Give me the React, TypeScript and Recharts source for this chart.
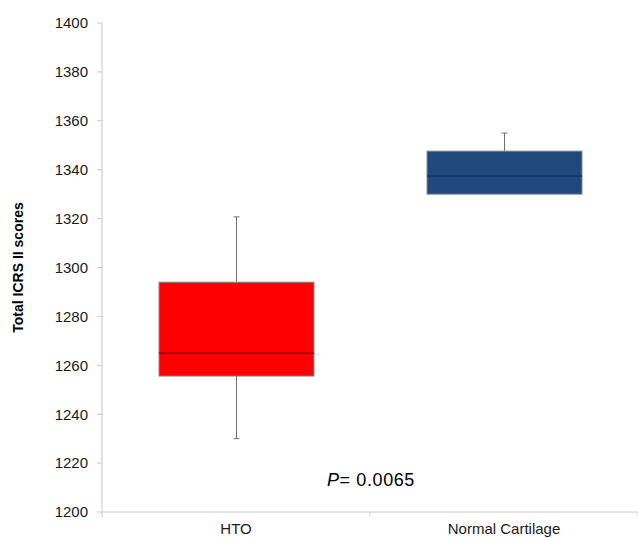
import { ComposedChart, Bar, XAxis, YAxis } from "recharts";

// groups and box statistics
const groups = ["HTO", "Normal Cartilage"];
const mins = [1230, 1330];
const q1s = [1255.6, 1330];
const medians = [1265, 1337.4];
const q3s = [1294, 1347.6];
const maxs = [1320.7, 1355];
const yTicks = [1200, 1220, 1240, 1260, 1280, 1300, 1320, 1340, 1360, 1380, 1400];

const fills = ["#FF0000", "#1F497D"];
const medianColors = ["#6B0000", "#17305A"];

const data = groups.map((g, i) => ({
  group: g,
  min: mins[i],
  q1: q1s[i],
  median: medians[i],
  q3: q3s[i],
  max: maxs[i],
  idx: i,
}));

const FONT = "'Liberation Sans', Arial, sans-serif";

// eslint-disable-next-line @typescript-eslint/no-explicit-any
const BoxShape = (props: any) => {
  const { x, y, width, height, payload } = props;
  const d = payload;
  const span = d.max - d.min;
  const ppu = span > 0 ? height / span : 0;
  const toY = (v: number) => y + (d.max - v) * ppu;
  const cx = x + width / 2;
  const yq3 = toY(d.q3);
  const yq1 = toY(d.q1);
  const ymed = toY(d.median);
  const ymax = toY(d.max);
  const ymin = toY(d.min);
  return (
    <g>
      {d.max > d.q3 && (
        <>
          <line x1={cx} x2={cx} y1={ymax} y2={yq3} stroke="#707070" strokeWidth={1} />
          <line x1={cx - 3} x2={cx + 3} y1={ymax} y2={ymax} stroke="#707070" strokeWidth={1} />
        </>
      )}
      {d.min < d.q1 && (
        <>
          <line x1={cx} x2={cx} y1={yq1} y2={ymin} stroke="#707070" strokeWidth={1} />
          <line x1={cx - 3} x2={cx + 3} y1={ymin} y2={ymin} stroke="#707070" strokeWidth={1} />
        </>
      )}
      <rect x={x} y={yq3} width={width} height={yq1 - yq3} fill={fills[d.idx]} stroke="#8A8A8A" strokeWidth={1} />
      <line x1={x} x2={x + width} y1={ymed} y2={ymed} stroke={medianColors[d.idx]} strokeWidth={1.2} />
    </g>
  );
};

// eslint-disable-next-line @typescript-eslint/no-explicit-any
const XTick = (props: any) => {
  const { x, y, payload, index } = props;
  const off = payload.offset || 0;
  return (
    <g>
      <line x1={x + off} x2={x + off} y1={y} y2={y + 5} stroke="#D0D0D0" />
      {index === 0 && <line x1={x - off} x2={x - off} y1={y} y2={y + 5} stroke="#C8C8C8" />}
      <text x={x} y={y + 22} textAnchor="middle" fontSize={15} fontFamily={FONT} fill="#1a1a1a">
        {payload.value}
      </text>
    </g>
  );
};

export default function App() {
  return (
    <div style={{ position: "absolute", left: 0, top: 0, width: 638, height: 538, background: "#fff" }}>
      <ComposedChart
        width={638}
        height={538}
        data={data}
        margin={{ top: 23, right: 0, left: 0, bottom: 0 }}
      >
        <XAxis
          dataKey="group"
          axisLine={{ stroke: "#C8C8C8" }}
          tickLine={false}
          tickSize={0}
          tickMargin={0}
          tick={<XTick />}
          height={26}
          interval={0}
        />
        <YAxis
          domain={[1200, 1400]}
          ticks={yTicks}
          width={102}
          axisLine={{ stroke: "#C8C8C8" }}
          tickLine={{ stroke: "#C8C8C8" }}
          tickSize={5}
          tickMargin={9}
          tick={{ fontSize: 15, fontFamily: FONT, fill: "#1a1a1a" }}
          label={{
            value: "Total ICRS II scores",
            angle: -90,
            position: "insideLeft",
            offset: 18,
            style: { fontSize: 14, fontWeight: "bold", fontFamily: FONT, fill: "#000", textAnchor: "middle" },
          }}
        />
        <Bar
          dataKey={(d: any) => [d.min, d.max]}
          barSize={155}
          shape={<BoxShape />}
          isAnimationActive={false}
        />
      </ComposedChart>
      <div
        style={{
          position: "absolute",
          left: 327,
          top: 470,
          fontSize: 18,
          letterSpacing: 0.6,
          fontFamily: FONT,
          color: "#000",
          whiteSpace: "nowrap",
        }}
      >
        <i>P</i>= 0.0065
      </div>
    </div>
  );
}
